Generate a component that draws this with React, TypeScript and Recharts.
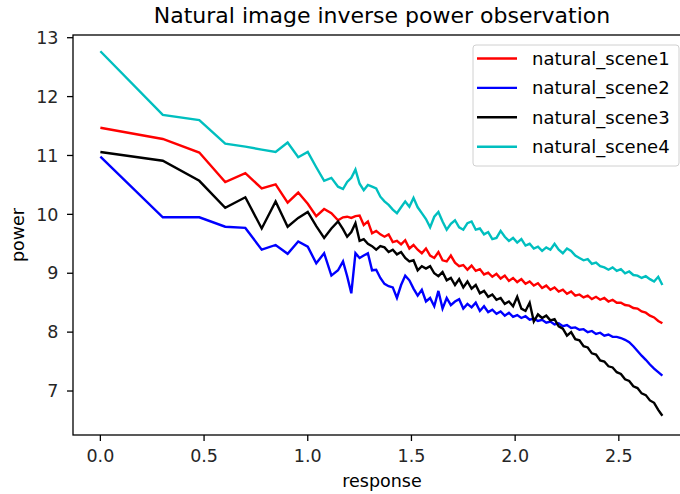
import { Line, LineChart, XAxis, YAxis } from "recharts";

const xValues = [
  0, 0.301, 0.477, 0.602, 0.699, 0.778, 0.845, 0.903, 0.954, 1.0, 1.041, 1.079, 1.114, 1.146,
  1.17, 1.19, 1.21, 1.23, 1.25, 1.27, 1.29, 1.31, 1.33, 1.35, 1.37, 1.39, 1.41, 1.43, 1.45, 1.47, 1.49,
  1.51, 1.53, 1.55, 1.57, 1.59, 1.61, 1.63, 1.65, 1.67, 1.69,
  1.71, 1.73, 1.75, 1.77, 1.79, 1.81, 1.83, 1.85, 1.87, 1.89,
  1.91, 1.93, 1.95, 1.97, 1.99, 2.01, 2.03, 2.05, 2.07, 2.09,
  2.11, 2.13, 2.15, 2.17, 2.19, 2.21, 2.23, 2.25, 2.27, 2.29,
  2.31, 2.33, 2.35, 2.37, 2.39, 2.41, 2.43, 2.45, 2.47, 2.49,
  2.51, 2.53, 2.55, 2.57, 2.59, 2.61, 2.63, 2.65, 2.67, 2.69,
  2.71
];

const scene1 = [
  11.47, 11.28, 11.05, 10.55, 10.7, 10.44, 10.51, 10.2, 10.37, 10.18, 9.97, 10.09, 10.02, 9.9,
  9.95, 9.96, 9.94, 9.97, 9.98, 9.82, 9.88, 9.68, 9.72, 9.66, 9.62, 9.66, 9.53, 9.55, 9.49, 9.56, 9.42,
  9.48, 9.4, 9.34, 9.42, 9.3, 9.26, 9.36, 9.22, 9.2, 9.3,
  9.18, 9.12, 9.14, 9.06, 9.13, 9.04, 9.07, 8.98, 9.01, 8.94,
  8.99, 8.91, 8.96, 8.87, 8.92, 8.85, 8.9, 8.82, 8.86, 8.79,
  8.83, 8.75, 8.79, 8.72, 8.76, 8.69, 8.72, 8.65, 8.69, 8.62,
  8.64, 8.59, 8.62, 8.56, 8.6, 8.55, 8.58, 8.52, 8.55, 8.5,
  8.5, 8.46, 8.45, 8.41, 8.4, 8.35, 8.33, 8.28, 8.25, 8.19,
  8.15
];

const scene2 = [
  10.98, 9.95, 9.95, 9.79, 9.77, 9.4, 9.48, 9.33, 9.54, 9.45, 9.17, 9.34, 8.96, 9.05,
  9.2, 8.95, 8.66, 9.34, 9.26, 9.3, 9.34, 9.05, 9.06, 8.92, 8.82, 8.78, 8.76, 8.58, 8.8, 8.96, 8.88,
  8.74, 8.62, 8.72, 8.52, 8.58, 8.44, 8.7, 8.4, 8.58, 8.46,
  8.52, 8.56, 8.4, 8.48, 8.42, 8.5, 8.36, 8.44, 8.34, 8.38,
  8.31, 8.35, 8.28, 8.33, 8.26, 8.29, 8.24, 8.27, 8.21, 8.23,
  8.19, 8.21, 8.16, 8.18, 8.13, 8.15, 8.1, 8.12, 8.07, 8.08,
  8.04, 8.05, 8.0, 8.02, 7.97, 7.99, 7.94, 7.96, 7.92, 7.92,
  7.9, 7.87, 7.83, 7.76, 7.68, 7.6, 7.53, 7.45, 7.38, 7.32,
  7.26
];

const scene3 = [
  11.06, 10.91, 10.57, 10.11, 10.29, 9.76, 10.22, 9.79, 9.94, 10.04, 9.8, 9.6, 9.76, 9.88,
  9.75, 9.62, 9.7, 9.85, 9.55, 9.58, 9.5, 9.46, 9.4, 9.46, 9.44, 9.36, 9.4, 9.32, 9.36, 9.26, 9.2,
  9.22, 9.05, 9.12, 9.08, 9.12, 9.0, 8.95, 9.02, 8.88, 8.92,
  8.8, 8.9, 8.76, 8.86, 8.74, 8.8, 8.66, 8.7, 8.6, 8.64,
  8.55, 8.58, 8.48, 8.52, 8.44, 8.6, 8.4, 8.36, 8.5, 8.18,
  8.3, 8.24, 8.28, 8.2, 8.22, 8.1, 8.06, 7.94, 8.0, 7.88,
  7.86, 7.76, 7.74, 7.64, 7.62, 7.52, 7.5, 7.42, 7.4, 7.32,
  7.29, 7.2, 7.17, 7.08, 7.05, 6.96, 6.93, 6.84, 6.8, 6.68,
  6.58
];

const scene4 = [
  12.77, 11.69, 11.6, 11.2, 11.15, 11.1, 11.06, 11.22, 10.97, 11.06, 10.8, 10.57, 10.62, 10.47,
  10.43, 10.55, 10.62, 10.76, 10.52, 10.41, 10.5, 10.47, 10.44, 10.3, 10.22, 10.16, 10.08, 10.02, 10.12, 10.22, 10.13,
  10.28, 10.12, 10.02, 9.92, 9.78, 9.96, 10.04, 9.88, 9.74, 9.84,
  9.9, 9.78, 9.74, 9.85, 9.88, 9.74, 9.76, 9.66, 9.7, 9.58,
  9.6, 9.72, 9.62, 9.55, 9.6, 9.52, 9.58, 9.47, 9.5, 9.42,
  9.45, 9.38, 9.44, 9.4, 9.5, 9.4, 9.34, 9.42, 9.38, 9.3,
  9.26, 9.22, 9.24, 9.16, 9.18, 9.12, 9.1, 9.06, 9.1, 9.04,
  9.07, 9.0, 9.03, 8.97, 8.96, 8.92, 8.95, 8.9, 8.86, 8.94,
  8.8
];

const seriesNames = ["natural_scene1", "natural_scene2", "natural_scene3", "natural_scene4"];
const seriesColors = ["#ff0000", "#0000ff", "#000000", "#00bfbf"];
const xTicks = [0, 0.5, 1, 1.5, 2, 2.5];
const yTicks = [7, 8, 9, 10, 11, 12, 13];

const rows = xValues.map((x, i) => ({
  x,
  s1: scene1[i],
  s2: scene2[i],
  s3: scene3[i],
  s4: scene4[i]
}));

const font = "'DejaVu Sans', sans-serif";
const tickStyle = { fill: "#262626", fontSize: 17.5, fontFamily: font };

export default function App() {
  return (
    <div style={{ position: "absolute", left: 0, top: 0, width: 680, height: 494, overflow: "hidden", background: "#fff" }}>
      <LineChart width={700} height={494} data={rows} margin={{ top: 35, right: 9, bottom: 0, left: 0 }}>
        <XAxis
          dataKey="x"
          type="number"
          domain={[-0.132, 2.848]}
          ticks={xTicks}
          tickFormatter={(v: number) => v.toFixed(1)}
          allowDataOverflow
          axisLine={false}
          tickLine={{ stroke: "#000", strokeWidth: 1.3 }}
          tickSize={6}
          tickMargin={9}
          height={59}
          tick={tickStyle}
        />
        <YAxis
          type="number"
          domain={[6.253, 13.046]}
          ticks={yTicks}
          allowDataOverflow
          axisLine={false}
          tickLine={{ stroke: "#000", strokeWidth: 1.3 }}
          tickSize={6}
          tickMargin={8.5}
          width={73}
          tick={tickStyle}
        />
        {["s1", "s2", "s3", "s4"].map((key, i) => (
          <Line
            key={key}
            dataKey={key}
            name={seriesNames[i]}
            type="linear"
            stroke={seriesColors[i]}
            strokeWidth={2.4}
            dot={false}
            isAnimationActive={false}
          />
        ))}
      </LineChart>
      <svg width={680} height={494} style={{ position: "absolute", left: 0, top: 0, pointerEvents: "none" }} fontFamily={font}>
        <rect x={73} y={35} width={618} height={400} fill="none" stroke="#000" strokeWidth={1.3} />
        <text x={382} y={23.3} textAnchor="middle" fontSize={22} fill="#000">
          Natural image inverse power observation
        </text>
        <text x={382} y={486.5} textAnchor="middle" fontSize={17.5} fill="#000">
          response
        </text>
        <text transform="translate(24,235) rotate(-90)" textAnchor="middle" fontSize={17.5} fill="#000">
          power
        </text>
        <rect x={473} y={45} width={206} height={121} rx={3} fill="#fff" fillOpacity={0.8} stroke="#d0d0d0" strokeWidth={1} />
        {seriesNames.map((name, i) => (
          <g key={name}>
            <line x1={477} x2={517} y1={58.5 + i * 29.4} y2={58.5 + i * 29.4} stroke={seriesColors[i]} strokeWidth={2.4} />
            <text x={532} y={58.5 + i * 29.4} dy="0.36em" fontSize={18} fill="#000">
              {name}
            </text>
          </g>
        ))}
      </svg>
    </div>
  );
}
